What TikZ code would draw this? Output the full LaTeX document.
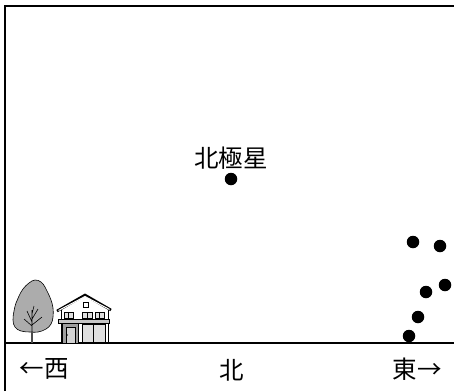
\documentclass[tikz,border=0pt]{standalone}
\usepackage{fontspec}
\newfontfamily\cjk{Noto Sans CJK JP}
\begin{document}
\begin{tikzpicture}[x=1pt,y=-1pt,
  label/.style={font=\cjk\fontsize{24.5}{26}\selectfont, inner sep=0pt},
  star/.style={circle, fill=black, minimum size=12.5pt, inner sep=0pt},
  frameline/.style={line width=1.6pt},
  groundline/.style={line width=1.8pt},
  crown/.style={fill=gray!65, draw=black, line width=0.6pt},
  thin/.style={line width=0.6pt}]
\useasboundingbox (0,0) rectangle (454,391);

% frame: left edge and top edge
\draw[frameline] (5,391) -- (5,6) -- (454,6);
% horizon
\draw[groundline] (5,343) -- (454,343);

% pole star
\node[label] (polarisname) at (231,158) {北極星};
\node[star] (polaris) at (231,179) {};

% stars rising in the east
\node[star] (e1) at (413,242) {};
\node[star] (e2) at (440,246) {};
\node[star] (e3) at (445,285) {};
\node[star] (e4) at (426,292) {};
\node[star] (e5) at (418,317) {};
\node[star] (e6) at (409,336) {};

% direction labels
\node[label] (west) at (44,369) {←西};
\node[label] (north) at (232,370) {北};
\node[label] (east) at (417,369) {東→};

% tree
\draw[line width=1.4pt, gray!60!black] (32,343) -- (32,318);
\draw[crown] plot[smooth cycle, tension=0.7] coordinates {
  (35,280) (41,282) (45,287) (48,293) (51,300) (53,308) (53,317)
  (51,324) (46,329) (38,332) (30,332) (21,331) (15,327) (13,320)
  (14,311) (16,303) (19,296) (23,289) (29,283)};
\draw[thin] (32,331) -- (32,310)
  (32,322) -- (27,311) (32,319) -- (38,309)
  (32,326) -- (24,319) (32,325) -- (42,317)
  (32,314) -- (34,306);
\draw[line width=1.4pt, gray!60!black] (32,331) -- (32,342);

% house
\draw[thin] (61,309) -- (61,343) (108,308) -- (108,343);
\draw[line width=2.6pt] (57,311) -- (85,295) -- (111,310);
\draw[line width=1pt, white] (58.5,310.5) -- (85,296.5) -- (109.5,309.5);
\draw[thin] (83,302) rectangle (88,307);
\draw[thin, fill=gray!25] (64,312) rectangle (73,318);
\draw[thin, fill=gray!25] (82,312) rectangle (92,318);
\draw[thin, fill=gray!25] (95,312) rectangle (104,318);
\draw[thin] (68.5,312) -- (68.5,318) (87,312) -- (87,318) (99.5,312) -- (99.5,318);
\draw[thin, fill=gray!45] (58,319) rectangle (109,323);
\draw[thin, fill=gray!75] (62,323) rectangle (78,343);
\draw[thin, fill=gray!35] (66,327) rectangle (75,343);
\fill (67.5,335) circle (0.7pt);
\draw[thin, fill=gray!25] (82,324) rectangle (105,342);
\draw[thin] (93.5,324) -- (93.5,342);
\end{tikzpicture}
\end{document}
